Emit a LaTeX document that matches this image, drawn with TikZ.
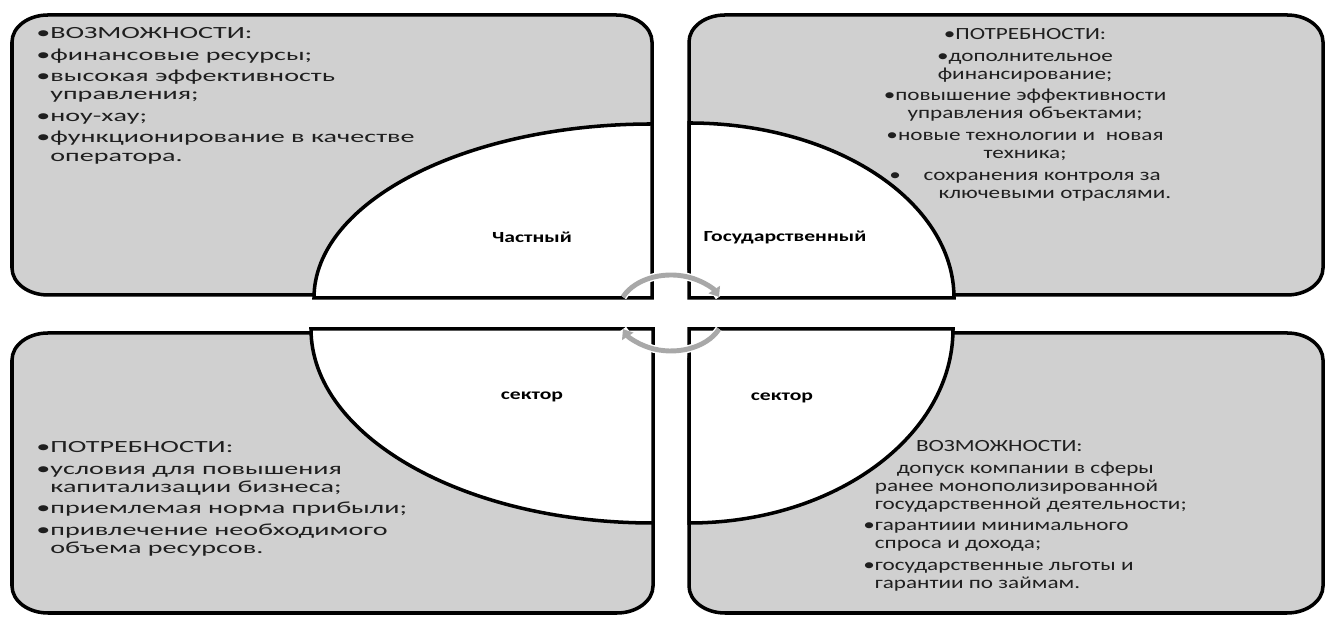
\documentclass[tikz,border=0pt]{standalone}
\usepackage{fontspec}
\setmainfont{Carlito}
\newfontfamily\listfont[FakeStretch=1.65]{Carlito}
\newfontfamily\narrowlistfont[FakeStretch=1.36]{Carlito}
\newfontfamily\sectorfont[FakeStretch=1.4]{Carlito}
\definecolor{panelgray}{RGB}{208,208,208}
\definecolor{cyclegray}{RGB}{168,168,168}
\usetikzlibrary{arrows.meta}

\begin{document}
\begin{tikzpicture}[x=0.02cm, y=0.02cm,
    panel/.style={draw=black, line width=2pt, fill=panelgray},
    sector/.style={draw=black, line width=2pt, fill=white},
    listtext/.style={inner sep=0pt, text=black!88,
      font=\listfont\fontsize{9.7}{10.3}\selectfont},
    narrowlist/.style={listtext,
      font=\narrowlistfont\fontsize{9.7}{10.3}\selectfont},
    sectorlabel/.style={inner sep=0pt,
      font=\sectorfont\bfseries\fontsize{8.8}{10}\selectfont},
    cyclearrow/.style={cyclegray, line width=2.8pt,
      -{Triangle[length=5pt,width=7.5pt]},
      preaction={draw=white, line width=4.4pt, -}}]
  \useasboundingbox (0,0) rectangle (1327,617);
  % Panels, corners rounded as ellipses (36 x 27)
  \foreach \xa/\ya/\xb/\yb in {12/322/652/602, 689/322/1323/602,
                               12/4/653/284, 689/4/1323/284}{
    \draw[panel] (\xa+36,\ya) -- (\xb-36,\ya)
      arc[start angle=-90, end angle=0, x radius=36, y radius=27]
      -- (\xb,\yb-27)
      arc[start angle=0, end angle=90, x radius=36, y radius=27]
      -- (\xa+36,\yb)
      arc[start angle=90, end angle=180, x radius=36, y radius=27]
      -- (\xa,\ya+27)
      arc[start angle=180, end angle=270, x radius=36, y radius=27]
      -- cycle;
  }
  % White quarter sectors in the middle
  \draw[sector] (652,319) -- (314,319)
    arc[start angle=180, end angle=90, x radius=338, y radius=174] -- cycle;
  \draw[sector] (689,319) -- (954,319)
    arc[start angle=0, end angle=90, x radius=265, y radius=175] -- cycle;
  \draw[sector] (653,288) -- (311,288)
    arc[start angle=180, end angle=270, x radius=342, y radius=194] -- cycle;
  \draw[sector] (689,288) -- (953,288)
    arc[start angle=0, end angle=-90, x radius=264, y radius=194] -- cycle;
  % Sector names
  \node[sectorlabel] (private) at (532,380) {Частный};
  \node[sectorlabel] (public) at (785,380) {Государственный};
  \node[sectorlabel] (privsector) at (532,220) {сектор};
  \node[sectorlabel] (pubsector) at (782,219) {сектор};
  % Lists
  \node[listtext, anchor=north west, align=left] (privopp) at (36,590)
    {•ВОЗМОЖНОСТИ:\\[2pt]
     •финансовые ресурсы;\\[2pt]
     •высокая эффективность\\
     \phantom{•}управления;\\[2pt]
     •ноу-хау;\\[2pt]
     •функционирование в качестве\\
     \phantom{•}оператора.};
  \node[narrowlist, anchor=north, align=center] (pubneeds) at (1025,589)
    {•ПОТРЕБНОСТИ:\\[2pt]
     •дополнительное\\
     финансирование;\\[2pt]
     •повышение эффективности\\
     управления объектами;\\[2pt]
     •новые технологии и~~новая\\
     техника;\\[2pt]
     •\hspace{13pt}сохранения контроля за\\
     \hspace{34pt}ключевыми отраслями.};
  \node[listtext, anchor=north west, align=left] (privneeds) at (36,176)
    {•ПОТРЕБНОСТИ:\\[2pt]
     •условия для повышения\\
     \phantom{•}капитализации бизнеса;\\[2pt]
     •приемлемая норма прибыли;\\[2pt]
     •привлечение необходимого\\
     \phantom{•}объема ресурсов.};
  \node[narrowlist, anchor=north west, align=left] (pubopp) at (863,177)
    {\hspace*{30pt}ВОЗМОЖНОСТИ:\\[2pt]
     \hspace*{19pt}допуск компании в сферы\\
     \phantom{•}ранее монополизированной\\
     \phantom{•}государственной деятельности;\\[2pt]
     •гарантиии минимального\\
     \phantom{•}спроса и дохода;\\[2pt]
     •государственные льготы и\\
     \phantom{•}гарантии по займам.};
  % Cycle arrows
  \coordinate (hub) at (671,304);
  \draw[cyclearrow] ([shift={(155:53 and 38)}]hub)
    arc[start angle=155, end angle=25, x radius=53, y radius=38];
  \draw[cyclearrow] ([shift={(-25:53 and 38)}]hub)
    arc[start angle=-25, end angle=-155, x radius=53, y radius=38];
\end{tikzpicture}
\end{document}
